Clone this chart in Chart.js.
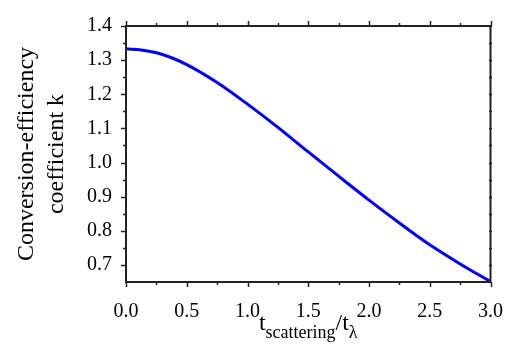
<!DOCTYPE html>
<html>
<head>
<meta charset="utf-8">
<script src="https://cdn.jsdelivr.net/npm/chart.js@4.4.1/dist/chart.umd.min.js"></script>
<style>
  html, body { margin: 0; padding: 0; background: #fff; }
  #wrap { width: 521px; height: 356px; position: relative; }
</style>
</head>
<body>
<div id="wrap"><canvas id="c" width="521" height="356"></canvas></div>
<script>
// ---- data ----
const xValues = [0, 0.125, 0.25, 0.375, 0.5, 0.75, 1.0, 1.25, 1.5, 1.75, 2.0, 2.25, 2.5, 2.75, 3.0];
const kValues = [1.333, 1.330, 1.3215, 1.307, 1.287, 1.2345, 1.171, 1.103, 1.031, 0.960, 0.890, 0.823, 0.759, 0.703, 0.651];
const xMajorTicks = [0, 0.5, 1.0, 1.5, 2.0, 2.5, 3.0];
const xMinorTicks = [0.25, 0.75, 1.25, 1.75, 2.25, 2.75];
const yMajorTicks = [0.7, 0.8, 0.9, 1.0, 1.1, 1.2, 1.3, 1.4];
const yMinorTicks = [0.75, 0.85, 0.95, 1.05, 1.15, 1.25, 1.35];
const yTitleLines = ['Conversion-efficiency', 'coefficient k'];
const xTitleParts = [['t', 'main'], ['scattering', 'sub'], ['/t', 'main'], ['λ', 'sub']];

const FONT = "'Liberation Serif', 'Times New Roman', serif";

const axesPlugin = {
  id: 'axesBox',
  afterDatasetsDraw(chart) {
    const { ctx, chartArea: { left, right, top, bottom }, scales: { x, y } } = chart;
    ctx.save();
    ctx.strokeStyle = '#222';
    ctx.lineWidth = 2;
    ctx.strokeRect(left, top, right - left, bottom - top);
    ctx.lineWidth = 1.5;
    ctx.beginPath();
    const tickX = (vals, len) => vals.forEach(v => {
      const px = Math.round(x.getPixelForValue(v)) + 0.5;
      ctx.moveTo(px, bottom); ctx.lineTo(px, bottom + len);
      ctx.moveTo(px, top); ctx.lineTo(px, top - len);
    });
    const tickY = (vals, len, rlen) => vals.forEach(v => {
      const py = Math.round(y.getPixelForValue(v)) + 0.5;
      ctx.moveTo(left, py); ctx.lineTo(left - len, py);
      ctx.moveTo(right - rlen, py); ctx.lineTo(right + rlen, py);
    });
    tickX(xMajorTicks, 5);
    tickX(xMinorTicks, 3);
    tickY(yMajorTicks, 5, 1.5);
    tickY(yMinorTicks, 3, 1.5);
    ctx.stroke();
    ctx.restore();
  }
};

const xTitlePlugin = {
  id: 'xTitle',
  afterDraw(chart) {
    const { ctx, chartArea: { left, right } } = chart;
    const mainFont = '24px ' + FONT;
    const subFont = '18px ' + FONT;
    ctx.save();
    ctx.fillStyle = '#000';
    ctx.textBaseline = 'alphabetic';
    ctx.textAlign = 'left';
    let total = 0;
    const widths = xTitleParts.map(([t, kind]) => {
      ctx.font = kind === 'main' ? mainFont : subFont;
      const w = ctx.measureText(t).width;
      total += w;
      return w;
    });
    let cx = (left + right) / 2 - total / 2;
    const baseY = 330;
    xTitleParts.forEach(([t, kind], i) => {
      ctx.font = kind === 'main' ? mainFont : subFont;
      ctx.fillText(t, cx, kind === 'main' ? baseY : baseY + 8);
      cx += widths[i];
    });
    ctx.restore();
  }
};

new Chart(document.getElementById('c'), {
  type: 'line',
  data: {
    datasets: [{
      data: xValues.map((v, i) => ({ x: v, y: kValues[i] })),
      borderColor: '#0000ff',
      borderWidth: 3,
      pointRadius: 0,
      fill: false,
      cubicInterpolationMode: 'monotone'
    }]
  },
  options: {
    responsive: false,
    devicePixelRatio: 1,
    animation: false,
    layout: { padding: { left: 0, top: 14, right: 29, bottom: 0 } },
    plugins: { legend: { display: false }, tooltip: { enabled: false } },
    scales: {
      x: {
        type: 'linear',
        min: 0, max: 3,
        afterBuildTicks: s => { s.ticks = xMajorTicks.map(v => ({ value: v })); },
        afterFit: s => { s.height = 74; },
        grid: { display: false, drawTicks: false },
        border: { display: false },
        ticks: {
          color: '#000',
          padding: 18,
          maxRotation: 0,
          font: { family: FONT, size: 20 },
          callback: v => Number(v).toFixed(1)
        }
      },
      y: {
        type: 'linear',
        min: 0.65, max: 1.4,
        afterBuildTicks: s => { s.ticks = yMajorTicks.map(v => ({ value: v })); },
        afterFit: s => { s.width = 126; },
        grid: { display: false, drawTicks: false },
        border: { display: false },
        ticks: {
          color: '#000',
          padding: 14,
          font: { family: FONT, size: 20 },
          callback: v => Number(v).toFixed(1)
        },
        title: {
          display: true,
          text: yTitleLines,
          color: '#000',
          font: { family: FONT, size: 24, lineHeight: 1.25 },
          padding: { top: 12, bottom: 0 }
        }
      }
    }
  },
  plugins: [axesPlugin, xTitlePlugin]
});
</script>
</body>
</html>
